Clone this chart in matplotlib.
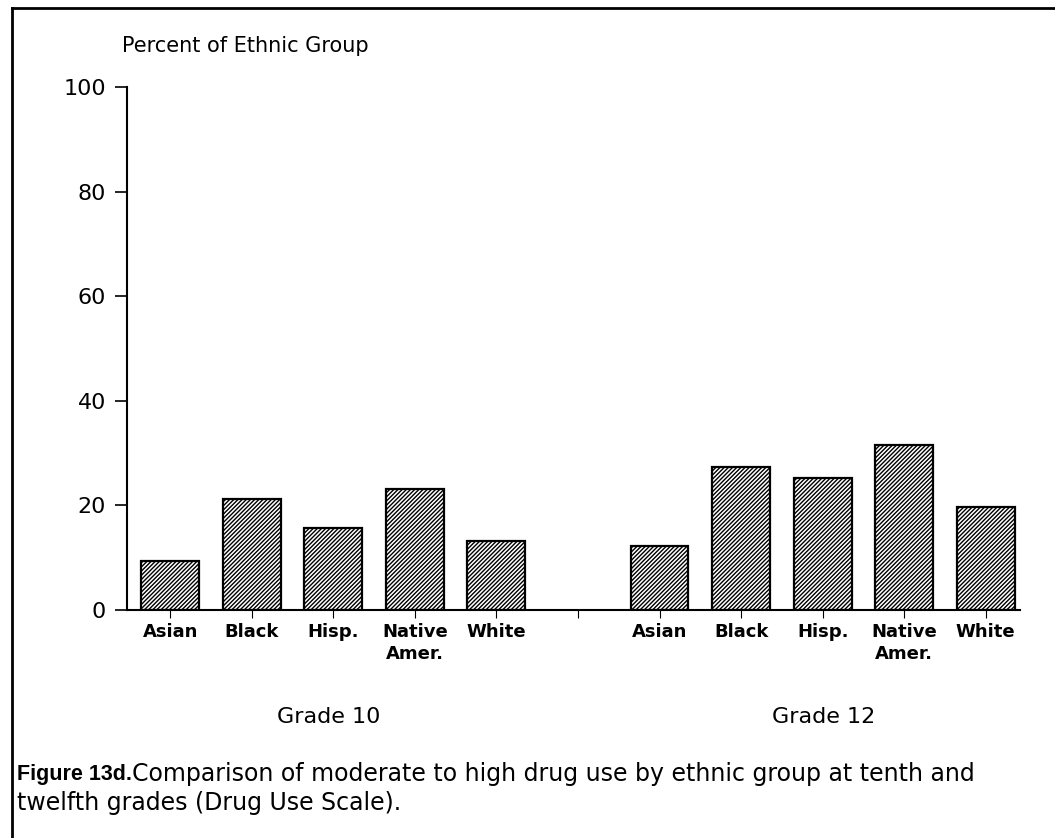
import numpy as np
import matplotlib.pyplot as plt
from matplotlib.lines import Line2D

# values (percent of ethnic group)
groups = ["Asian", "Black", "Hisp.", "Native\nAmer.", "White"]
grade10 = [9.4, 21.2, 15.7, 23.1, 13.2]
grade12 = [12.2, 27.3, 25.2, 31.5, 19.7]
grade_labels = ["Grade 10", "Grade 12"]
yticks = [0, 20, 40, 60, 80, 100]

plt.rcParams['hatch.linewidth'] = 1.0
plt.rcParams['font.family'] = ['DejaVu Sans']

fig = plt.figure(figsize=(10.55, 8.38), dpi=100)
ax = fig.add_axes([127 / 1055, 1 - 610 / 838, (1020 - 127) / 1055, (610 - 87) / 838])

n = len(groups)
x10 = np.arange(n)
x12 = np.arange(n) + n + 1
ax.bar(x10, grade10, width=0.71, color="white", edgecolor="black",
       linewidth=1.6, hatch="////////")
ax.bar(x12, grade12, width=0.71, color="white", edgecolor="black",
       linewidth=1.6, hatch="////////")

ax.set_xlim(-0.53, 10.42)
ax.set_ylim(0, 100)
ax.set_yticks(yticks)
ax.tick_params(axis="y", direction="out", length=9, width=1.2, labelsize=16, pad=6)
ax.set_xticks(list(x10) + [n] + list(x12))
ax.set_xticklabels([])
ax.tick_params(axis="x", direction="out", length=6, width=0.8)
for s in ["top", "right"]:
    ax.spines[s].set_visible(False)
ax.spines["left"].set_linewidth(1.5)
ax.spines["bottom"].set_linewidth(1.5)

# category labels under each bar
for xs in (x10, x12):
    for xi, lab in zip(xs, groups):
        ax.text(xi, -2.5, lab, ha="center", va="top", fontsize=13,
                fontweight="bold", linespacing=1.25, clip_on=False)

fig.text(329 / 1055, 1 - 717 / 838, grade_labels[0], ha="center", va="center", fontsize=16)
fig.text(824 / 1055, 1 - 717 / 838, grade_labels[1], ha="center", va="center", fontsize=16)

fig.text(122 / 1055, 1 - 46 / 838, "Percent of Ethnic Group", ha="left", va="center", fontsize=15)

# caption
fig.text(17 / 1055, 1 - 774 / 838, "Figure 13d.", ha="left", va="center",
         fontsize=15.5, fontweight="bold", family="Liberation Sans")
fig.text(132 / 1055, 1 - 774 / 838,
         "Comparison of moderate to high drug use by ethnic group at tenth and",
         ha="left", va="center", fontsize=17)
fig.text(17 / 1055, 1 - 803 / 838, "twelfth grades (Drug Use Scale).",
         ha="left", va="center", fontsize=17)

# page frame (left and top edges)
fig.add_artist(Line2D([12 / 1055, 12 / 1055], [0, 1 - 8 / 838], color="black", lw=2))
fig.add_artist(Line2D([12 / 1055, 1], [1 - 8 / 838, 1 - 8 / 838], color="black", lw=2))

fig.savefig("out.png", dpi=100)
